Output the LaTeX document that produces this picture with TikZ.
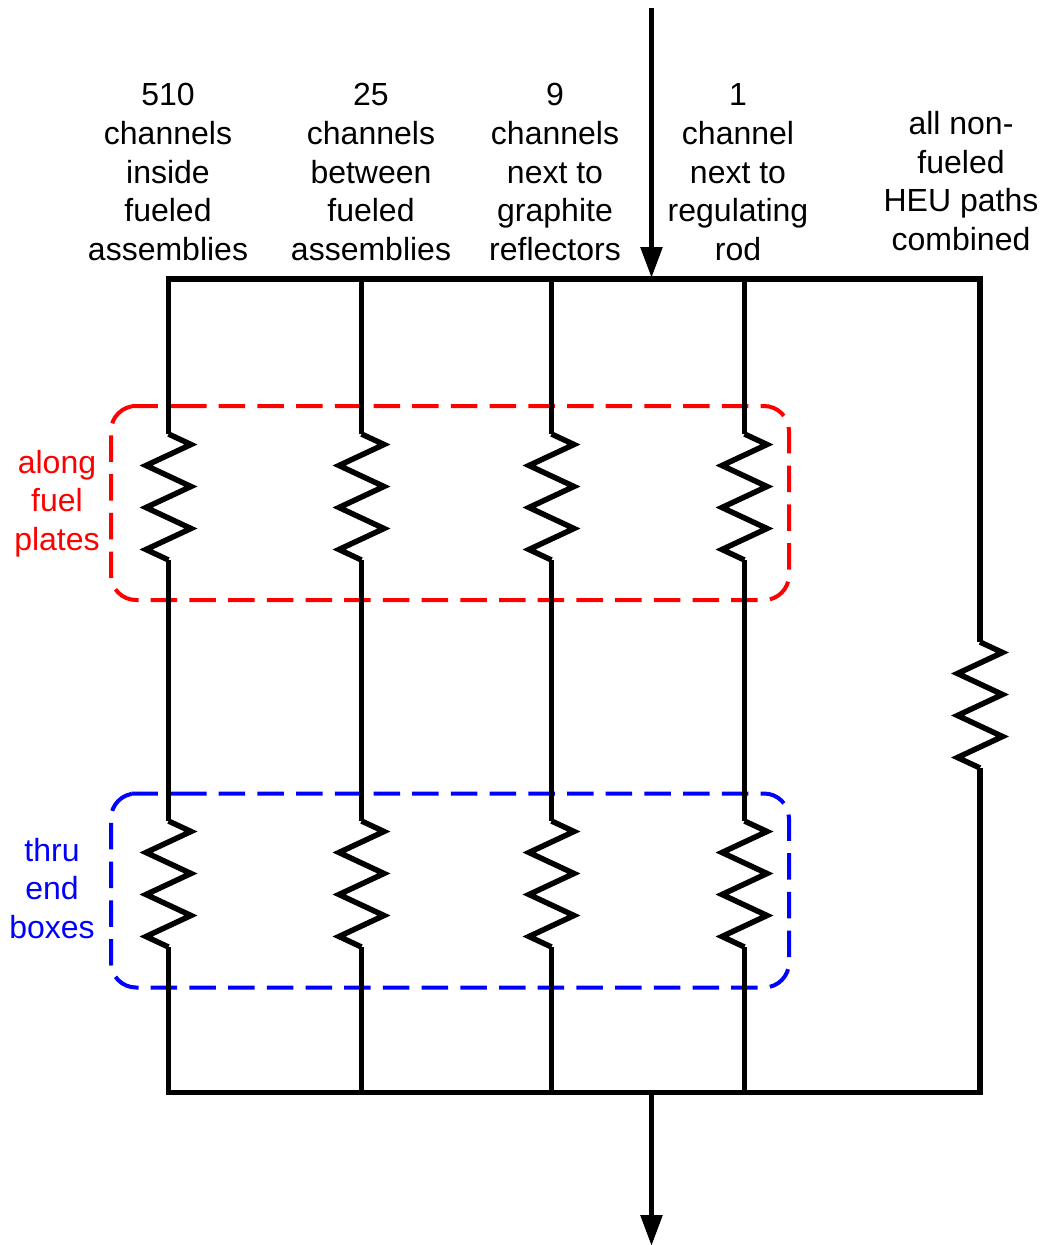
\documentclass[tikz,border=0pt]{standalone}
\usepackage{fontspec}
\setmainfont{Liberation Sans}
\usetikzlibrary{arrows.meta}
\tikzset{
  x=1pt,y=-1pt,
  wire/.style={line width=5.5pt,black,line cap=rect,line join=miter},
  zigwire/.style={line width=5.5pt,black,line cap=butt,line join=miter},
  flow/.style={line width=5.5pt,black,-{Triangle[width=21pt,length=31pt]}},
  lbl/.style={anchor=base,align=center,inner sep=0pt,font=\fontsize{32pt}{38.7pt}\selectfont},
  redbox/.style={line width=4pt,red,dash pattern=on 26.5pt off 12.2pt,rounded corners=25pt},
  bluebox/.style={line width=4pt,blue,dash pattern=on 26.5pt off 12.2pt,rounded corners=25pt},
}
\newcommand{\zigpath}[2]{(#1,#2) -- ++(22.5,10.5) -- ++(-45,21) -- ++(45,21) -- ++(-45,21) -- ++(45,21) -- ++(-45,21) -- ++(22.5,10.5)}
\begin{document}
\begin{tikzpicture}
\useasboundingbox (0,0) rectangle (1042,1245);
% dashed groups
\draw[redbox] (155,406) -- (789,406) -- (789,600) -- (111,600) -- (111,406) -- cycle;
\draw[bluebox] (155,793.5) -- (789,793.5) -- (789,987.5) -- (111,987.5) -- (111,793.5) -- cycle;
% junction coordinates
\coordinate (tl) at (168.5,279); \coordinate (tr) at (980,279);
\coordinate (bl) at (168.5,1092.5); \coordinate (br) at (980,1092.5);
\coordinate (in) at (651.5,8); \coordinate (intip) at (651.5,278);
\coordinate (outs) at (651.5,1092.5); \coordinate (outtip) at (651.5,1246);
% buses
\draw[wire] (tl) -- (tr);
\draw[wire] (bl) -- (br);
% branches
\foreach \n/\x in {a/168.5,b/361.5,c/551.5,d/744.5}{
  \coordinate (\n t) at (\x,279);
  \coordinate (\n u) at (\x,434);
  \coordinate (\n v) at (\x,560);
  \coordinate (\n w) at (\x,821);
  \coordinate (\n z) at (\x,947);
  \coordinate (\n b) at (\x,1092.5);
  \draw[zigwire] (\n t) -- (\n u);
  \draw[zigwire] (\n v) -- (\n w);
  \draw[zigwire] (\n z) -- (\n b);
  \draw[zigwire] \zigpath{\x}{434};
  \draw[zigwire] \zigpath{\x}{821};
}
\coordinate (eu) at (980,642); \coordinate (ev) at (980,768);
\draw[zigwire] (tr) -- (eu);
\draw[zigwire] (ev) -- (br);
\draw[zigwire] \zigpath{980}{642};
% arrows
\draw[flow] (in) -- (intip);
\draw[flow] (outs) -- (outtip);
% labels
\node[lbl] (l1) at (168,260.4) {510\\channels\\inside\\fueled\\assemblies};
\node[lbl] (l2) at (371,260.4) {25\\channels\\between\\fueled\\assemblies};
\node[lbl] (l3) at (555,260.4) {9\\channels\\next to\\graphite\\reflectors};
\node[lbl] (l4) at (738,260.4) {1\\channel\\next to\\regulating\\rod};
\node[lbl] (l5) at (961,250.4) {all non-\\fueled\\HEU paths\\combined};
\node[lbl,text=red] (l6) at (57,550.4) {along\\fuel\\plates};
\node[lbl,text=blue] (l7) at (52,938.4) {thru\\end\\boxes};
\end{tikzpicture}
\end{document}
